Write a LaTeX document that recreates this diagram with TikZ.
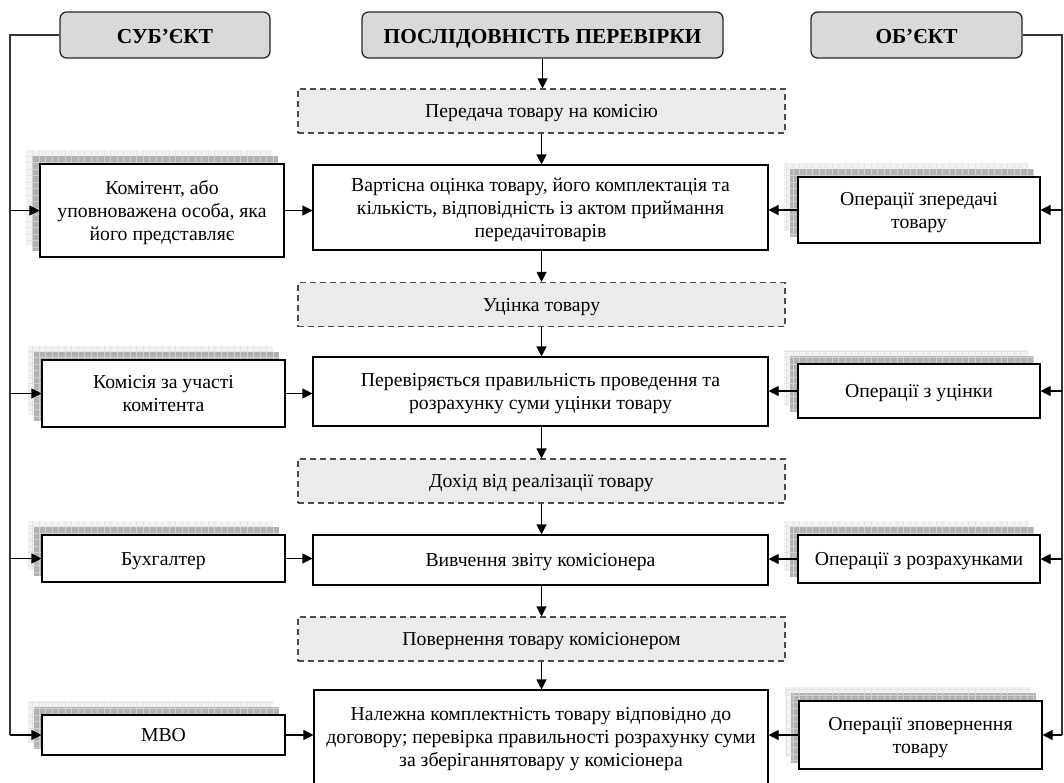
\documentclass[tikz,border=0pt]{standalone}
\usepackage{fontspec}
\setmainfont{Liberation Serif}
\usetikzlibrary{arrows.meta,backgrounds,calc}
\begin{document}
\begin{tikzpicture}[x=0.75pt,y=-0.75pt,
  every node/.style={font=\fontsize{14.8}{17.3}\selectfont, align=center, inner sep=0pt,
    execute at begin node={\rule{0pt}{0.93em}},
    execute at end node={\rule[-0.24em]{0pt}{0.24em}}},
  bw/.style={minimum width=#1*0.75pt, text width=#1*0.75pt, align=flush center},
  head/.style={draw=black!85, line width=1pt, rounded corners=5pt, fill=black!15,
    font=\fontsize{16}{19}\selectfont\bfseries, minimum height=46*0.75pt,
    execute at begin node={\rule{0pt}{1.05em}}},
  mainbox/.style={draw=black, line width=0.8pt, fill=white},
  sidebox/.style={draw=black, line width=0.8pt, fill=white},
  stage/.style={draw=black!70, dash pattern=on 4.5pt off 3pt, fill=black!8, line width=0.8pt,
    minimum width=487*0.75pt, minimum height=44*0.75pt},
  conn/.style={line width=0.8pt, -{Triangle[length=7.5pt,width=7.5pt]}},
  bus/.style={line width=0.8pt, draw=black!80},
  shlight/.style={fill=black!5},
  shdark/.style={fill=black!30},
  shlightgrid/.style={draw=black!11, line width=0.3pt},
  shdarkgrid/.style={draw=black!18, line width=0.3pt},
]
\useasboundingbox (0,0) rectangle (1064,782);

% headers
\node[head, minimum width=210*0.75pt] (subj) at (165,35) {СУБ’ЄКТ};
\node[head, minimum width=361*0.75pt] (seq) at (542.5,35) {ПОСЛІДОВНІСТЬ ПЕРЕВІРКИ};
\node[head, minimum width=211*0.75pt] (obj) at (916.5,35) {ОБ’ЄКТ};

% stages
\node[stage] (d1) at (541.5,111) {Передача товару на комісію};
\node[stage] (d2) at (541.5,304.5) {Уцінка товару};
\node[stage] (d3) at (541.5,481) {Дохід від реалізації товару};
\node[stage] (d4) at (541.5,639) {Повернення товару комісіонером};

% main boxes
\node[mainbox, bw=455, minimum height=85*0.75pt] (m1) at (540.5,207.5)
  {Вартісна оцінка товару, його комплектація та\\кількість, відповідність із актом приймання\\передачітоварів};
\node[mainbox, bw=455, minimum height=69*0.75pt] (m2) at (540.5,391.5)
  {Перевіряється правильність проведення та\\розрахунку суми уцінки товару};
\node[mainbox, minimum width=455*0.75pt, minimum height=50*0.75pt] (m3) at (540.5,560)
  {Вивчення звіту комісіонера};
\node[mainbox, bw=454, minimum height=94*0.75pt] (m4) at (541,737)
  {Належна комплектність товару відповідно до\\договору; перевірка правильності розрахунку суми\\за зберіганнятовару у комісіонера};

% left boxes
\node[sidebox, bw=244, minimum height=93*0.75pt] (l1) at (162,210.5)
  {Комітент, або\\уповноважена особа, яка\\його представляє};
\node[sidebox, bw=243, minimum height=67*0.75pt] (l2) at (163.5,393.5)
  {Комісія за участі\\комітента};
\node[sidebox, minimum width=243*0.75pt, minimum height=47*0.75pt] (l3) at (163.5,558.5)
  {Бухгалтер};
\node[sidebox, minimum width=243*0.75pt, minimum height=40*0.75pt] (l4) at (163.5,735)
  {МВО};

% right boxes
\node[sidebox, bw=242, minimum height=66*0.75pt] (r1) at (919,210)
  {Операції зпередачі\\товару};
\node[sidebox, minimum width=242*0.75pt, minimum height=54*0.75pt] (r2) at (919,391)
  {Операції з уцінки};
\node[sidebox, minimum width=242*0.75pt, minimum height=48*0.75pt] (r3) at (919,559)
  {Операції з розрахунками};
\node[sidebox, bw=243, minimum height=68*0.75pt] (r4) at (920.5,735)
  {Операції зповернення\\товару};

% shadows
\begin{scope}[on background layer]
\foreach \n in {l1,l2,l3,l4,r1,r2,r3,r4}{
  \fill[shlight] ($(\n.south west)+(-13,-13)$) rectangle ($(\n.north east)+(-13,-13)$);
  \draw[shlightgrid, step=6.5*0.75pt] ($(\n.south west)+(-13,-13)$) grid ($(\n.north east)+(-13,-13)$);
  \fill[shdark] ($(\n.south west)+(-7,-7)$) rectangle ($(\n.north east)+(-7,-7)$);
  \draw[shdarkgrid, step=6.5*0.75pt] ($(\n.south west)+(-7,-7)$) grid ($(\n.north east)+(-7,-7)$);
}
\end{scope}

% vertical sequence
\draw[conn] (seq.south) -- (seq.south |- d1.north);
\draw[conn] (d1.south) -- (d1.south |- m1.north);
\draw[conn] (d1.south |- m1.south) -- (d1.south |- d2.north);
\draw[conn] (d2.south) -- (d2.south |- m2.north);
\draw[conn] (d2.south |- m2.south) -- (d2.south |- d3.north);
\draw[conn] (d3.south) -- (d3.south |- m3.north);
\draw[conn] (d3.south |- m3.south) -- (d3.south |- d4.north);
\draw[conn] (d4.south) -- (d4.south |- m4.north);

% left bus
\coordinate (lbus) at (10,35);
\draw[bus] (subj.west) -- (lbus) -- (lbus |- l4.west);
\foreach \n in {l1,l2,l3,l4}{
  \draw[conn] (lbus |- \n.west) -- (\n.west);
}
\draw[conn] (l1.east) -- (l1.east -| m1.west);
\draw[conn] (l2.east) -- (l2.east -| m2.west);
\draw[conn] (l3.east) -- (l3.east -| m3.west);
\draw[conn] (l4.east) -- (l4.east -| m4.west);

% right bus
\coordinate (rbus) at (1062,35);
\draw[bus] (obj.east) -- (rbus) -- (rbus |- r4.east);
\foreach \n in {r1,r2,r3,r4}{
  \draw[conn] (rbus |- \n.east) -- (\n.east);
}
\draw[conn] (r1.west) -- (r1.west -| m1.east);
\draw[conn] (r2.west) -- (r2.west -| m2.east);
\draw[conn] (r3.west) -- (r3.west -| m3.east);
\draw[conn] (r4.west) -- (r4.west -| m4.east);
\end{tikzpicture}
\end{document}
